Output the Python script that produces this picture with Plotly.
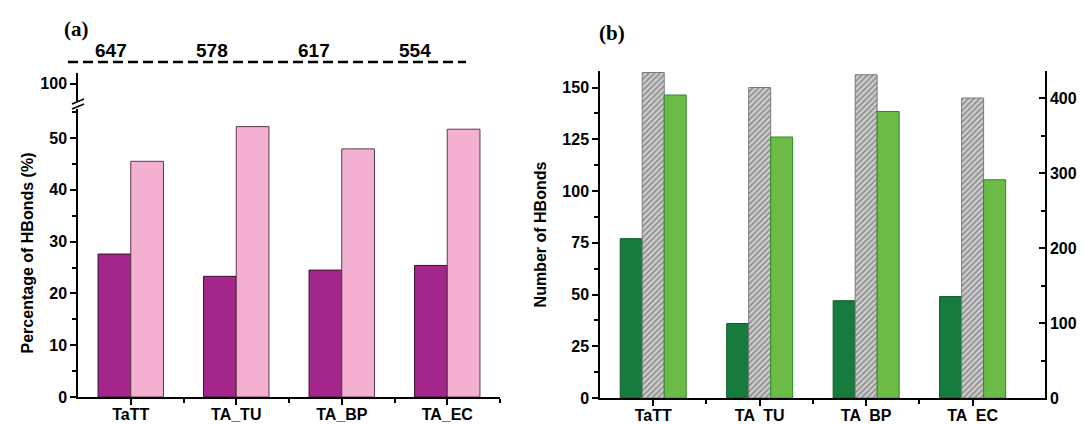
import plotly.graph_objects as go

# ---------------- data ----------------
categories_a = ["TaTT", "TA_TU", "TA_BP", "TA_EC"]
categories_b = ["TaTT", "TA  TU", "TA  BP", "TA  EC"]
pct_dark = [27.6, 23.3, 24.5, 25.4]
pct_light = [45.5, 52.2, 47.9, 51.7]
totals = [647, 578, 617, 554]
hb_dark_left = [77, 36, 47, 49]
hb_hatched_right = [434, 414, 431, 400]
hb_light_right = [404, 348, 382, 291]

xa = list(range(len(categories_a)))
xb = list(range(len(categories_b)))

W, H = 1084, 424
def px(x):
    return x / W
def py(y):
    return (H - y) / H

FONT = "Liberation Sans, Arial, sans-serif"
tickfont = dict(family=FONT, size=16, color="black", weight="bold")

fig = go.Figure()

# panel (a)
fig.add_trace(go.Bar(x=xa, y=pct_dark, xaxis="x", yaxis="y",
                     marker=dict(color="#a3268a", line=dict(color="#3a1030", width=1)),
                     showlegend=False))
fig.add_trace(go.Bar(x=xa, y=pct_light, xaxis="x", yaxis="y",
                     marker=dict(color="#f3b0d0", line=dict(color="#5a3a4a", width=1)),
                     showlegend=False))
fig.add_trace(go.Scatter(x=[], y=[], xaxis="x", yaxis="y3", showlegend=False))

# panel (b)
fig.add_trace(go.Bar(x=xb, y=hb_dark_left, xaxis="x2", yaxis="y2",
                     alignmentgroup="b", offsetgroup="b1",
                     marker=dict(color="#177b3e", line=dict(color="#0d5a2a", width=1)),
                     showlegend=False))
fig.add_trace(go.Bar(x=xb, y=hb_hatched_right, xaxis="x2", yaxis="y4",
                     alignmentgroup="b", offsetgroup="b2",
                     marker=dict(color="#d0d0d0", line=dict(color="#7a7a7a", width=1),
                                 pattern=dict(shape="/", fgcolor="#4a4a4a", bgcolor="#d0d0d0",
                                              size=4, solidity=0.45)),
                     showlegend=False))
fig.add_trace(go.Bar(x=xb, y=hb_light_right, xaxis="x2", yaxis="y4",
                     alignmentgroup="b", offsetgroup="b3",
                     marker=dict(color="#6cbb47", line=dict(color="#2a8a2a", width=1)),
                     showlegend=False))

axis_common = dict(showline=True, linecolor="black", linewidth=1.5, ticks="outside",
                   ticklen=6, tickwidth=1.5, tickcolor="black", showgrid=False,
                   zeroline=False, tickfont=tickfont, automargin=False)

fig.update_layout(
    width=W, height=H,
    margin=dict(l=0, r=0, t=0, b=0, autoexpand=False),
    paper_bgcolor="white", plot_bgcolor="white",
    barmode="group", bargap=0.38, bargroupgap=0,
    xaxis=dict(axis_common, domain=[px(78), px(500)], range=[-0.5, 3.5], anchor="y",
               tickvals=xa, ticktext=categories_a, ticklabelstandoff=-4,
               minor=dict(tickvals=[0.5, 1.5, 2.5, 3.5], ticks="outside", ticklen=4,
                          tickwidth=1.5, tickcolor="black")),
    yaxis=dict(axis_common, domain=[py(397), py(109)], range=[0, 55.6], anchor="x",
               tickvals=[0, 10, 20, 30, 40, 50],
               minor=dict(dtick=5, tick0=0, ticks="outside", ticklen=4, tickwidth=1.5,
                          tickcolor="black"),
               title=dict(text="Percentage of HBonds (%)", standoff=12,
                          font=dict(family=FONT, size=16, color="black", weight="bold"))),
    yaxis3=dict(axis_common, domain=[py(101), py(73)], range=[96.7, 102.1], anchor="x",
                tickvals=[100]),
    xaxis2=dict(axis_common, domain=[px(600), px(1045)], range=[-0.5, 3.68], anchor="y2",
                tickvals=xb, ticktext=categories_b, ticklabelstandoff=-4,
                minor=dict(tickvals=[0.5, 1.5, 2.5], ticks="outside", ticklen=4,
                           tickwidth=1.5, tickcolor="black")),
    yaxis2=dict(axis_common, domain=[py(398), py(71)], range=[0, 158], anchor="x2",
                tickvals=[0, 25, 50, 75, 100, 125, 150],
                minor=dict(dtick=12.5, tick0=0, ticks="outside", ticklen=4, tickwidth=1.5,
                           tickcolor="black"),
                title=dict(text="Number of HBonds", standoff=12,
                           font=dict(family=FONT, size=16, color="black", weight="bold"))),
    yaxis4=dict(axis_common, overlaying="y2", side="right", anchor="x2", range=[0, 436],
                ticks="inside", tickvals=[0, 100, 200, 300, 400],
                minor=dict(dtick=50, tick0=0, ticks="inside", ticklen=4, tickwidth=1.5,
                           tickcolor="black")),
)

# axis break marks on panel (a)
fig.add_shape(type="rect", xref="paper", yref="paper", x0=px(74), x1=px(82),
              y0=py(109), y1=py(101), fillcolor="white", line=dict(width=0), layer="above")
for y0 in (104, 109):
    fig.add_shape(type="line", xref="paper", yref="paper",
                  x0=px(72), y0=py(y0), x1=px(84), y1=py(y0 - 5),
                  line=dict(color="black", width=1.5))

# dashed line with totals
fig.add_shape(type="line", xref="paper", yref="paper", x0=px(68), x1=px(466),
              y0=py(62), y1=py(62), line=dict(color="black", width=2.5, dash="10px,5px"))
for i, t in enumerate(totals):
    fig.add_annotation(x=xa[i], xref="x", y=py(51), yref="paper", text=str(t),
                       showarrow=False, xshift=-20 - 4 * i, yanchor="middle", xanchor="center",
                       font=dict(family=FONT, size=19, color="black", weight="bold"))

# panel labels
serif = dict(family="Liberation Serif, Times New Roman, serif", size=21,
             color="black", weight="bold")
fig.add_annotation(x=px(62), y=py(29), xref="paper", yref="paper", text="(a)",
                   xanchor="left", yanchor="middle", showarrow=False, font=serif)
fig.add_annotation(x=px(597), y=py(33), xref="paper", yref="paper", text="(b)",
                   xanchor="left", yanchor="middle", showarrow=False, font=serif)

fig.write_html("out.html", config={"displayModeBar": False},
               post_script="document.body.style.margin='0';")
